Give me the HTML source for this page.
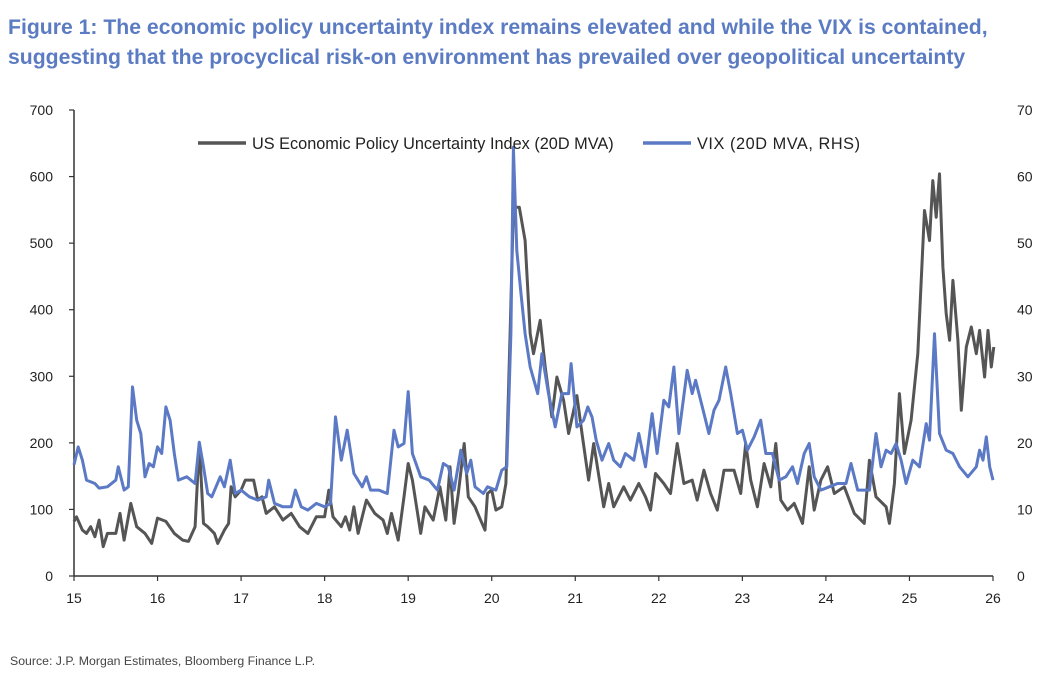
<!DOCTYPE html>
<html><head><meta charset="utf-8"><style>
body{margin:0;background:#fff;width:1053px;height:676px;overflow:hidden;font-family:"Liberation Sans",Arial,sans-serif}
.title{position:absolute;left:8px;top:13px;color:#5b7bc3;font-weight:bold;font-size:21.2px;line-height:30px;white-space:nowrap}
.src{position:absolute;left:10px;top:654px;font-size:12.3px;color:#444}
svg{position:absolute;left:0;top:0}
</style></head><body>
<div class="title">Figure 1: The economic policy uncertainty index remains elevated and while the VIX is contained,<br>suggesting that the procyclical risk-on environment has prevailed over geopolitical uncertainty</div>
<div class="src">Source: J.P. Morgan Estimates, Bloomberg Finance L.P.</div>
<svg id="c" width="1053" height="676"></svg>
<script>
const yearTicks=[15,16,17,18,19,20,21,22,23,24,25,26];
const leftTicks=[0,100,200,300,400,500,600,700];
const rightTicks=[0,10,20,30,40,50,60,70];
const epuX=[15.0,15.03,15.1,15.15,15.2,15.25,15.3,15.35,15.4,15.5,15.55,15.6,15.68,15.75,15.85,15.93,16.0,16.1,16.2,16.3,16.37,16.45,16.5,16.55,16.6,16.68,16.72,16.8,16.85,16.88,16.93,17.0,17.05,17.15,17.2,17.25,17.3,17.4,17.5,17.6,17.7,17.8,17.9,18.0,18.05,18.1,18.2,18.25,18.3,18.35,18.4,18.5,18.6,18.7,18.75,18.8,18.88,18.95,19.0,19.05,19.15,19.2,19.3,19.38,19.45,19.5,19.55,19.6,19.67,19.72,19.8,19.85,19.92,19.95,20.0,20.05,20.12,20.17,20.22,20.26,20.33,20.4,20.46,20.5,20.58,20.64,20.72,20.78,20.86,20.92,21.02,21.08,21.16,21.22,21.34,21.4,21.46,21.58,21.66,21.76,21.84,21.9,21.96,22.06,22.14,22.22,22.3,22.4,22.46,22.54,22.62,22.7,22.78,22.9,22.98,23.04,23.1,23.18,23.26,23.34,23.4,23.46,23.54,23.62,23.72,23.8,23.86,23.94,24.02,24.1,24.22,24.34,24.46,24.52,24.6,24.72,24.76,24.82,24.88,24.94,25.02,25.1,25.18,25.24,25.28,25.32,25.36,25.4,25.44,25.48,25.52,25.58,25.62,25.68,25.74,25.8,25.84,25.9,25.94,25.98,26.01];
const epuY=[82,89,69,64,74,59,84,44,64,64,94,54,109,74,64,49,87,82,64,54,52,74,199,79,74,64,49,69,79,134,119,129,144,144,114,119,94,104,84,94,74,64,89,89,129,89,74,89,69,104,64,114,94,84,64,94,54,119,169,144,64,104,84,134,84,164,79,124,199,119,104,89,69,124,129,99,104,139,364,554,554,504,364,334,384,314,239,299,264,214,271,214,144,199,104,139,104,134,114,139,119,99,154,139,124,199,139,144,114,159,124,99,159,159,124,199,144,104,169,134,199,114,99,109,79,164,99,144,164,124,134,94,79,174,119,104,79,139,274,184,234,334,549,504,594,539,604,464,394,354,444,354,249,344,374,334,369,299,369,314,344];
const vixX=[15.0,15.05,15.1,15.15,15.25,15.3,15.4,15.5,15.53,15.6,15.65,15.7,15.75,15.8,15.85,15.9,15.95,16.0,16.05,16.1,16.15,16.2,16.25,16.35,16.45,16.5,16.55,16.6,16.65,16.75,16.8,16.87,16.93,17.0,17.1,17.2,17.3,17.33,17.4,17.5,17.6,17.65,17.72,17.8,17.9,18.0,18.07,18.13,18.2,18.27,18.35,18.45,18.5,18.55,18.65,18.75,18.83,18.88,18.95,19.0,19.05,19.15,19.25,19.35,19.42,19.48,19.55,19.63,19.7,19.75,19.8,19.9,19.95,20.05,20.12,20.18,20.23,20.26,20.3,20.35,20.4,20.46,20.55,20.6,20.68,20.76,20.84,20.92,20.95,21.02,21.1,21.15,21.2,21.25,21.32,21.4,21.46,21.54,21.6,21.7,21.76,21.84,21.92,21.98,22.06,22.12,22.18,22.24,22.34,22.4,22.44,22.52,22.6,22.66,22.72,22.8,22.86,22.94,23.0,23.06,23.14,23.22,23.28,23.36,23.44,23.52,23.6,23.66,23.74,23.8,23.86,23.94,24.04,24.14,24.24,24.3,24.38,24.52,24.6,24.66,24.72,24.78,24.84,24.9,24.96,25.04,25.12,25.2,25.24,25.3,25.36,25.44,25.52,25.6,25.7,25.8,25.84,25.88,25.92,25.96,26.0];
const vixY=[16.7,19.4,17.4,14.4,13.9,13.2,13.4,14.4,16.4,12.9,13.4,28.4,23.4,21.4,14.9,16.9,16.4,19.4,18.4,25.4,23.4,18.4,14.4,14.9,13.9,20.1,16.4,12.4,11.9,14.9,13.4,17.4,12.4,12.9,11.9,11.4,11.9,14.4,10.9,10.4,10.4,12.9,10.4,9.9,10.9,10.4,10.9,23.9,17.4,21.9,15.4,13.4,14.9,12.9,12.9,12.4,21.9,19.4,19.9,27.7,18.4,14.9,14.4,12.9,16.9,16.4,12.9,18.9,15.4,17.4,13.4,12.4,13.4,12.9,15.9,16.4,36.4,64.4,48.9,42.4,36.4,31.4,27.4,33.4,27.4,22.4,27.4,27.4,31.9,22.4,23.4,25.4,23.9,20.4,17.4,19.9,17.4,16.4,18.4,17.4,21.4,16.4,24.4,18.4,26.4,25.4,31.4,21.4,30.9,27.4,29.4,25.4,21.4,24.9,26.4,31.4,27.4,21.4,21.9,18.9,20.9,23.4,18.4,18.4,14.4,14.9,16.4,13.9,18.4,19.9,14.9,12.9,13.4,13.9,13.9,16.9,12.9,12.9,21.4,16.4,18.9,18.4,19.9,17.4,13.9,17.4,16.4,22.9,20.4,36.4,21.4,18.9,18.4,16.4,14.9,16.4,18.9,17.4,20.9,16.4,14.4];

const NS='http://www.w3.org/2000/svg';
const svg=document.getElementById('c');
const X0=74,X1=993,Y0=576,Y1=110;
const xs=y=>X0+(y-15)/11*(X1-X0);
const yl=v=>Y0-v/700*(Y0-Y1);
const yr=v=>Y0-v/70*(Y0-Y1);
function mk(tag,attrs){const e=document.createElementNS(NS,tag);for(const k in attrs)e.setAttribute(k,attrs[k]);svg.appendChild(e);return e;}

let e;
e=mk('line',{x1:X0,y1:Y1,x2:X0,y2:Y0,stroke:'#333','stroke-width':1.5});


e=mk('line',{x1:X0,y1:Y0,x2:X1,y2:Y0,stroke:'#333','stroke-width':1.5});


leftTicks.forEach(v=>{
  const t=mk('line',{x1:X0-5,y1:yl(v),x2:X0,y2:yl(v),stroke:'#333','stroke-width':1.2});
  
  
  const l=mk('text',{x:53,y:yl(v)+5,'text-anchor':'end','font-size':14,fill:'#222'});l.textContent=v;
  
  
});
rightTicks.forEach(v=>{
  const l=mk('text',{x:1017,y:yr(v)+5,'font-size':14,fill:'#222'});l.textContent=v;
  
  
});
yearTicks.forEach(v=>{
  const t=mk('line',{x1:xs(v),y1:Y0,x2:xs(v),y2:Y0+5,stroke:'#333','stroke-width':1.2});
  
  
  const l=mk('text',{x:xs(v),y:Y0+27,'text-anchor':'middle','font-size':14,fill:'#222'});l.textContent=v;
  
  
});
function path(xa,ya,fy){return xa.map((x,i)=>(i?'L':'M')+xs(x).toFixed(1)+','+fy(ya[i]).toFixed(1)).join('');}
e=mk('path',{d:path(epuX,epuY,yl),fill:'none',stroke:'#555','stroke-width':3,'stroke-linejoin':'round'});


e=mk('path',{d:path(vixX,vixY,yr),fill:'none',stroke:'#5b79c4','stroke-width':3,'stroke-linejoin':'round'});


// legend
e=mk('line',{x1:198,y1:143,x2:246,y2:143,stroke:'#555','stroke-width':3.5});


e=mk('text',{x:252,y:149,'font-size':16.3,fill:'#222'});e.textContent='US Economic Policy Uncertainty Index (20D MVA)';


e=mk('line',{x1:643,y1:143,x2:691,y2:143,stroke:'#5b79c4','stroke-width':3.5});


e=mk('text',{x:697,y:149,'font-size':16.3,fill:'#222','textLength':163});e.textContent='VIX (20D MVA, RHS)';


</script>
</body></html>
